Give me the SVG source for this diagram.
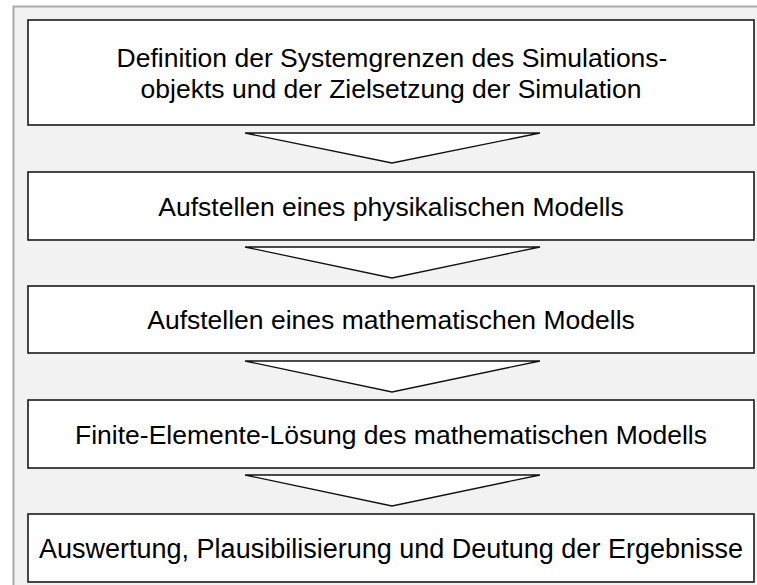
<svg xmlns="http://www.w3.org/2000/svg" width="757" height="585" viewBox="0 0 757 585">
<style>
.box{fill:#ffffff;stroke:#1a1a1a;stroke-width:1.6}
.arr{fill:#ffffff;stroke:#111111;stroke-width:1.3;stroke-linejoin:miter}
.t{font-family:"Liberation Sans",Arial,sans-serif;font-size:26.5px;fill:#000000;text-anchor:middle}
</style>
<rect x="13.5" y="6.5" width="760" height="600" fill="#f2f2f2" stroke="#aaaaaa" stroke-width="2"/>
<g id="connectors">
<polygon class="arr" points="245,133 540,133 392,163"/>
<polygon class="arr" points="245,247 540,247 392,278"/>
<polygon class="arr" points="245,361 540,361 392,392"/>
<polygon class="arr" points="245,475 540,475 392,506"/>
</g>
<g id="n1">
<rect class="box" x="28" y="20" width="726" height="105"/>
<text class="t" x="392" y="67">Definition der Systemgrenzen des Simulations-</text>
<text class="t" x="391" y="98">objekts und der Zielsetzung der Simulation</text>
</g>
<g id="n2">
<rect class="box" x="28" y="172" width="726" height="68"/>
<text class="t" x="391" y="216">Aufstellen eines physikalischen Modells</text>
</g>
<g id="n3">
<rect class="box" x="28" y="286" width="726" height="67"/>
<text class="t" x="391" y="329">Aufstellen eines mathematischen Modells</text>
</g>
<g id="n4">
<rect class="box" x="28" y="400" width="726" height="68"/>
<text class="t" x="391" y="444">Finite-Elemente-Lösung des mathematischen Modells</text>
</g>
<g id="n5">
<rect class="box" x="28" y="514" width="726" height="68"/>
<text class="t" x="391" y="558" style="font-size:27px">Auswertung, Plausibilisierung und Deutung der Ergebnisse</text>
</g>
</svg>
